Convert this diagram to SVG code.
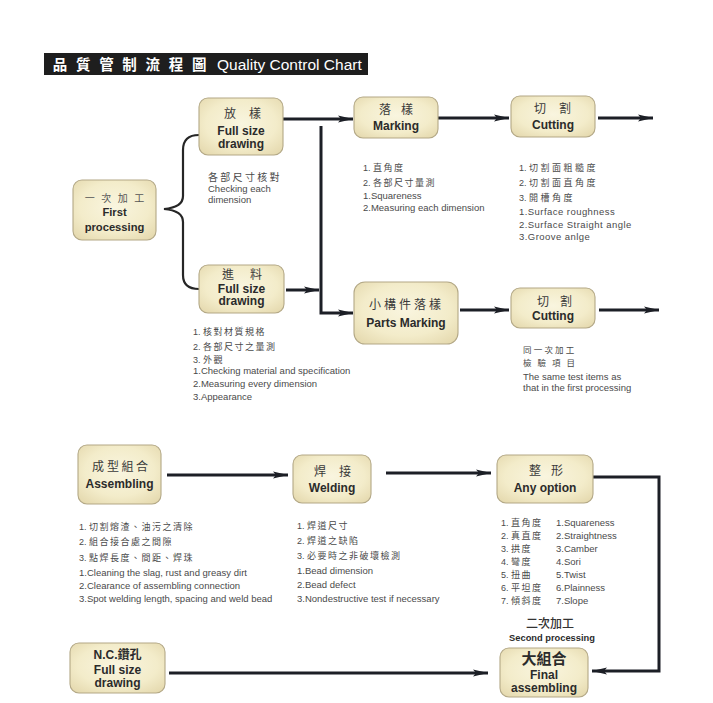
<svg xmlns="http://www.w3.org/2000/svg" width="713" height="703" viewBox="0 0 713 703">
<defs>
<radialGradient id="boxfill" cx="50%" cy="45%" r="70%">
<stop offset="0" stop-color="#f9f5df"/>
<stop offset="0.6" stop-color="#f3ecca"/>
<stop offset="1" stop-color="#e4d8ad"/>
</radialGradient>
<marker id="arr" markerUnits="userSpaceOnUse" markerWidth="16" markerHeight="10" refX="15" refY="5" orient="auto">
<path d="M0,1.5 L15,5 L0,8.5 L3,5 z" fill="#1c1f26"/>
</marker>
<style>
.box{fill:url(#boxfill);stroke:#b3a886;stroke-width:1.1}
.conn{fill:none;stroke:#1c1f26;stroke-width:3}
.brace{fill:none;stroke:#262626;stroke-width:2.2}
.cn{font-family:"Noto Sans CJK TC","Noto Sans CJK SC",sans-serif;fill:#3a3a3a;font-size:12px;text-anchor:middle}
.en{font-family:"Liberation Sans",Arial,sans-serif;font-weight:bold;fill:#2b2b2b;font-size:12px;text-anchor:middle}
.note{font-family:"Liberation Sans",Arial,sans-serif;fill:#4a4a4a;font-size:9.5px}
.notecn{font-family:"Noto Sans CJK TC","Noto Sans CJK SC",sans-serif;fill:#4a4a4a;font-size:9px;letter-spacing:1.5px}
.num{font-family:"Liberation Sans",Arial,sans-serif;letter-spacing:0}
</style>
</defs>
<rect width="713" height="703" fill="#ffffff"/>

<g id="title">
<rect x="44" y="53" width="324" height="22" fill="#1e1e1e"/>
<text x="60 83.2 106.4 129.6 152.8 176 199.2" y="69.5" font-family="Noto Sans CJK TC,Noto Sans CJK SC,sans-serif" font-size="14.5" fill="#ffffff" text-anchor="middle" font-weight="bold">品質管制流程圖</text>
<text x="217" y="70" font-family="Liberation Sans,Arial,sans-serif" font-size="15.5" fill="#ffffff">Quality Control Chart</text>
</g>

<g id="connectors">
<path class="brace" d="M199,135 C188,135 183,140 183,150 L183,196 C183,204 176,208 164,209 C176,210 183,214 183,222 L183,275 C183,284 188,289 199,289"/>
<path class="conn" d="M283,119 L353,119" marker-end="url(#arr)"/>
<path class="conn" d="M321,126 L321,313 L353,313" marker-end="url(#arr)"/>
<path class="conn" d="M286,290 L319,290" marker-end="url(#arr)"/>
<path class="conn" d="M438,118 L509,118" marker-end="url(#arr)"/>
<path class="conn" d="M598,118 L653,118" marker-end="url(#arr)"/>
<path class="conn" d="M460,310 L509,310" marker-end="url(#arr)"/>
<path class="conn" d="M599,310 L659,310" marker-end="url(#arr)"/>
<path class="conn" d="M167,475 L288,475" marker-end="url(#arr)"/>
<path class="conn" d="M386,473 L491,473" marker-end="url(#arr)"/>
<path class="conn" d="M593,477 L659,477 L659,671 L592,671" marker-end="url(#arr)"/>
<path class="conn" d="M169,673 L488,673" marker-end="url(#arr)"/>
</g>

<g id="first-processing">
<rect class="box" x="73" y="180" width="83" height="60" rx="9"/>
<text class="cn" x="89.75 106.25 122.75 139.25" y="202" style="font-size:10px;fill:#555">一次加工</text>
<text class="en" x="114.5" y="216" style="font-size:11.2px">First</text>
<text class="en" x="114.5" y="231" style="font-size:11.2px">processing</text>
</g>

<g id="full-size-drawing-1">
<rect class="box" x="199" y="98" width="84" height="57" rx="9"/>
<text class="cn" x="230 255" y="118">放樣</text>
<text class="en" x="241" y="135">Full size</text>
<text class="en" x="241" y="148">drawing</text>
<text class="notecn" x="208" y="181" style="font-size:10px;letter-spacing:2.3px">各部尺寸核對</text>
<text class="note" x="208" y="192">Checking each</text>
<text class="note" x="208" y="203">dimension</text>
</g>

<g id="full-size-drawing-2">
<rect class="box" x="199" y="265" width="85" height="48" rx="9"/>
<text class="cn" x="228 256" y="279">進料</text>
<text class="en" x="241.5" y="292.5">Full size</text>
<text class="en" x="241.5" y="305">drawing</text>
<text class="notecn" x="193" y="334.5"><tspan class="num">1. </tspan>核對材質規格</text>
<text class="notecn" x="193" y="349.5"><tspan class="num">2. </tspan>各部尺寸之量測</text>
<text class="notecn" x="193" y="362.5"><tspan class="num">3. </tspan>外觀</text>
<text class="note" x="193" y="373.5">1.Checking material and specification</text>
<text class="note" x="193" y="386.5">2.Measuring every dimension</text>
<text class="note" x="193" y="399.5">3.Appearance</text>
</g>

<g id="marking">
<rect class="box" x="354" y="97" width="84" height="41" rx="9"/>
<text class="cn" x="385 407" y="114">落樣</text>
<text class="en" x="396" y="129.5">Marking</text>
<text class="notecn" x="363" y="171"><tspan class="num">1. </tspan>直角度</text>
<text class="notecn" x="363" y="186"><tspan class="num">2. </tspan>各部尺寸量測</text>
<text class="note" x="363" y="198.5">1.Squareness</text>
<text class="note" x="363" y="211">2.Measuring each dimension</text>
</g>

<g id="cutting-1">
<rect class="box" x="511" y="96" width="84" height="41" rx="9"/>
<text class="cn" x="540 565" y="113">切割</text>
<text class="en" x="553" y="129">Cutting</text>
<text class="notecn" x="519" y="170.5" style="letter-spacing:2.5px"><tspan class="num">1. </tspan>切割面粗糙度</text>
<text class="notecn" x="519" y="185.5" style="letter-spacing:2.5px"><tspan class="num">2. </tspan>切割面直角度</text>
<text class="notecn" x="519" y="201" style="letter-spacing:2.5px"><tspan class="num">3. </tspan>開槽角度</text>
<text class="note" x="519" y="214.5" style="letter-spacing:0.45px">1.Surface roughness</text>
<text class="note" x="519" y="227.5" style="letter-spacing:0.45px">2.Surface Straight angle</text>
<text class="note" x="519" y="239.5" style="letter-spacing:0.45px">3.Groove anlge</text>
</g>

<g id="parts-marking">
<rect class="box" x="354" y="282" width="104" height="62" rx="11"/>
<text class="cn" x="375 390 405 420 435" y="309">小構件落樣</text>
<text class="en" x="406" y="326.5">Parts Marking</text>
</g>

<g id="cutting-2">
<rect class="box" x="511" y="288" width="84" height="40" rx="9"/>
<text class="cn" x="543 566" y="306">切割</text>
<text class="en" x="553" y="320">Cutting</text>
<text class="notecn" x="523" y="352.5" style="font-size:8.5px;letter-spacing:2.2px">同一次加工</text>
<text class="notecn" x="523" y="365.5" style="font-size:8.5px;letter-spacing:6px">檢驗項目</text>
<text class="note" x="523" y="379.5">The same test items as</text>
<text class="note" x="523" y="390.5">that in the first processing</text>
</g>

<g id="assembling">
<rect class="box" x="78" y="445" width="83" height="59" rx="9"/>
<text class="cn" x="98 113 127.5 142" y="471">成型組合</text>
<text class="en" x="119.5" y="487.5">Assembling</text>
<text class="notecn" x="79" y="529.5"><tspan class="num">1. </tspan>切割熔渣、油污之清除</text>
<text class="notecn" x="79" y="544.5"><tspan class="num">2. </tspan>組合接合處之間隙</text>
<text class="notecn" x="79" y="560.5"><tspan class="num">3. </tspan>點焊長度、間距、焊珠</text>
<text class="note" x="79" y="575.5">1.Cleaning the slag, rust and greasy dirt</text>
<text class="note" x="79" y="588.5">2.Clearance of assembling connection</text>
<text class="note" x="79" y="601.5">3.Spot welding length, spacing and weld bead</text>
</g>

<g id="welding">
<rect class="box" x="293" y="455" width="78" height="48" rx="9"/>
<text class="cn" x="320 345" y="476">焊接</text>
<text class="en" x="332" y="491.5">Welding</text>
<text class="notecn" x="297" y="528.5"><tspan class="num">1. </tspan>焊道尺寸</text>
<text class="notecn" x="297" y="543.5"><tspan class="num">2. </tspan>焊道之缺陷</text>
<text class="notecn" x="297" y="558.5"><tspan class="num">3. </tspan>必要時之非破壞檢測</text>
<text class="note" x="297" y="573.5">1.Bead dimension</text>
<text class="note" x="297" y="587.5">2.Bead defect</text>
<text class="note" x="297" y="601.5">3.Nondestructive test if necessary</text>
</g>

<g id="any-option">
<rect class="box" x="497" y="455" width="96" height="48" rx="9"/>
<text class="cn" x="535 557" y="475">整形</text>
<text class="en" x="545" y="491.5">Any option</text>
<text class="notecn" x="501" y="525.5"><tspan class="num">1. </tspan>直角度</text>
<text class="notecn" x="501" y="538.5"><tspan class="num">2. </tspan>真直度</text>
<text class="notecn" x="501" y="551.5"><tspan class="num">3. </tspan>拱度</text>
<text class="notecn" x="501" y="564.5"><tspan class="num">4. </tspan>彎度</text>
<text class="notecn" x="501" y="577.5"><tspan class="num">5. </tspan>扭曲</text>
<text class="notecn" x="501" y="590.5"><tspan class="num">6. </tspan>平坦度</text>
<text class="notecn" x="501" y="603.5"><tspan class="num">7. </tspan>傾斜度</text>
<text class="note" x="556" y="525.5">1.Squareness</text>
<text class="note" x="556" y="538.5">2.Straightness</text>
<text class="note" x="556" y="551.5">3.Camber</text>
<text class="note" x="556" y="564.5">4.Sori</text>
<text class="note" x="556" y="577.5">5.Twist</text>
<text class="note" x="556" y="590.5">6.Plainness</text>
<text class="note" x="556" y="603.5">7.Slope</text>
</g>

<g id="nc-drilling">
<rect class="box" x="70" y="643" width="95" height="50" rx="9"/>
<text class="en" x="117.5" y="658.5"><tspan>N.C.</tspan><tspan style="font-family:'Noto Sans CJK TC','Noto Sans CJK SC',sans-serif">鑽孔</tspan></text>
<text class="en" x="117.5" y="673.5">Full size</text>
<text class="en" x="117.5" y="687">drawing</text>
</g>

<g id="final-assembling">
<text class="cn" x="550" y="628" style="font-size:12px;font-weight:500;fill:#333">二次加工</text>
<text class="en" x="552" y="640.5" style="font-size:9.3px">Second processing</text>
<rect class="box" x="500" y="648" width="88" height="49" rx="9"/>
<text class="cn" x="544" y="663.5" style="font-size:15px;font-weight:bold;fill:#2b2b2b">大組合</text>
<text class="en" x="544" y="678.5">Final</text>
<text class="en" x="544" y="691.5">assembling</text>
</g>
</svg>
